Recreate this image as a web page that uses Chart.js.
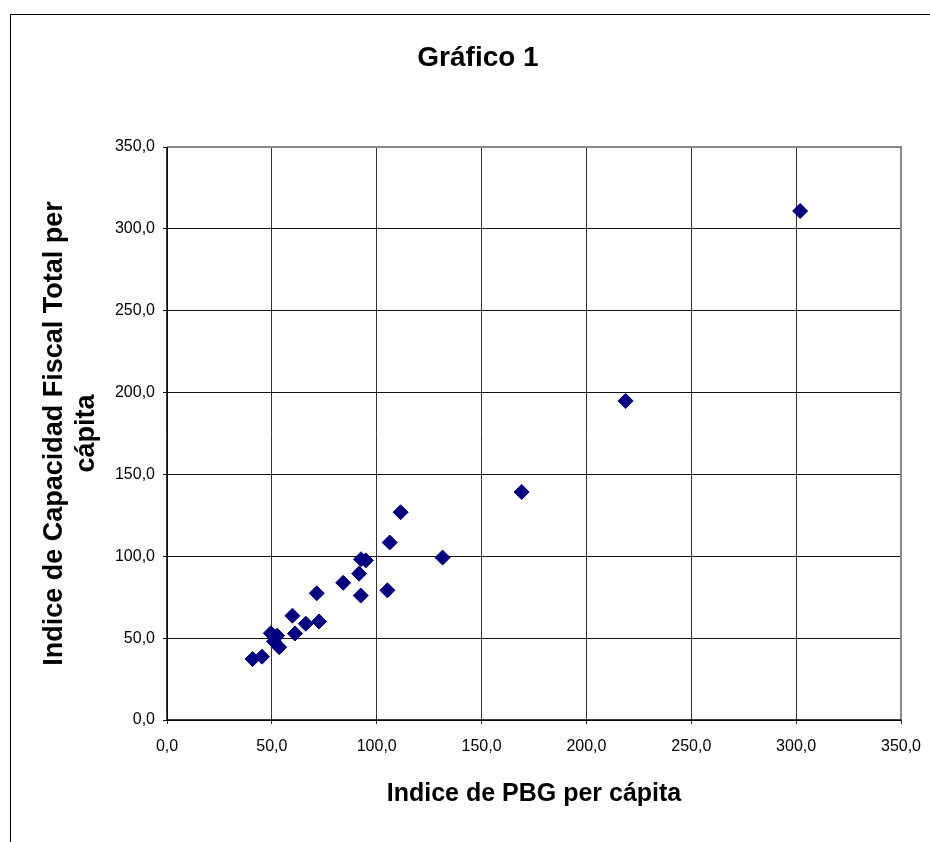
<!DOCTYPE html>
<html>
<head>
<meta charset="utf-8">
<script src="https://cdn.jsdelivr.net/npm/chart.js@4/dist/chart.umd.min.js"></script>
<style>
  html, body { margin: 0; padding: 0; overflow: hidden; background: #fff; width: 930px; height: 842px; }
  #frame { position: absolute; left: 10px; top: 14px; width: 1000px; height: 900px; border: 1px solid #000; box-sizing: border-box; }
  #c { position: absolute; left: 0; top: 0; }
</style>
</head>
<body>
<div id="frame"></div>
<canvas id="c" width="956" height="842"></canvas>
<script>
// Data
const pbgIndex = [301.9, 218.7, 169.1, 131.4, 111.4, 106.2, 105.1, 94.8, 92.5, 91.6, 84.0, 92.4, 71.4, 72.5, 66.2, 59.8, 61.0, 49.5, 52.5, 53.5, 51.0, 40.8, 45.3];
const capFiscalIndex = [310.9, 194.9, 139.3, 99.2, 126.9, 108.4, 79.2, 97.5, 98.2, 89.4, 83.8, 76.0, 77.4, 60.2, 58.8, 63.7, 52.8, 53.0, 51.5, 44.5, 48.0, 37.2, 38.7];
const axisMin = 0;
const axisMax = 350;
const axisStep = 50;
const chartTitle = 'Gráfico 1';
const xTitle = 'Indice de PBG per cápita';
const yTitle = ['Indice de Capacidad Fiscal Total per', 'cápita'];

const points = pbgIndex.map((x, i) => ({ x: x, y: capFiscalIndex[i] }));
const FONT = 'Arial, "Liberation Sans", Helvetica, sans-serif';
const fmt = v => Number(v).toFixed(1).replace('.', ',');

const framePlugin = {
  id: 'framePlugin',
  beforeDatasetsDraw(chart) {
    const { ctx, chartArea: a } = chart;
    ctx.save();
    ctx.strokeStyle = '#888888';
    ctx.lineWidth = 2;
    ctx.beginPath();
    ctx.moveTo(a.left, a.top);
    ctx.lineTo(a.right, a.top);
    ctx.lineTo(a.right, a.bottom);
    ctx.stroke();
    ctx.strokeStyle = '#000000';
    ctx.lineWidth = 1.5;
    ctx.beginPath();
    ctx.moveTo(a.left, a.top);
    ctx.lineTo(a.left, a.bottom);
    ctx.lineTo(a.right, a.bottom);
    ctx.stroke();
    ctx.restore();
  }
};

new Chart(document.getElementById('c'), {
  type: 'scatter',
  data: {
    datasets: [{
      data: points,
      pointStyle: 'rectRot',
      pointRadius: 7.5,
      pointHoverRadius: 7.5,
      backgroundColor: '#000080',
      borderColor: '#000080',
      borderWidth: 1
    }]
  },
  options: {
    responsive: false,
    animation: false,
    devicePixelRatio: 1,
    events: [],
    layout: { padding: { left: 0, right: 0, top: 0, bottom: 0 } },
    plugins: {
      legend: { display: false },
      tooltip: { enabled: false },
      title: {
        display: true,
        text: chartTitle,
        color: '#000',
        font: { family: FONT, size: 28, weight: 'bold', lineHeight: 1.2 },
        padding: { top: 41, bottom: 72.4 }
      }
    },
    scales: {
      x: {
        type: 'linear',
        position: 'bottom',
        min: axisMin,
        max: axisMax,
        afterFit: s => { s.height = 122; },
        ticks: {
          stepSize: axisStep,
          callback: fmt,
          color: '#000',
          font: { family: FONT, size: 16 },
          padding: 13,
          maxRotation: 0
        },
        grid: { color: '#333333', lineWidth: 1, tickLength: 4, drawTicks: true },
        border: { display: false },
        title: {
          display: true,
          text: xTitle,
          color: '#000',
          font: { family: FONT, size: 25, weight: 'bold', lineHeight: '30px' },
          padding: { top: 0, bottom: 32.5 }
        }
      },
      y: {
        type: 'linear',
        position: 'left',
        min: axisMin,
        max: axisMax,
        afterFit: s => { s.width = 167; },
        ticks: {
          stepSize: axisStep,
          callback: fmt,
          color: '#000',
          font: { family: FONT, size: 16 },
          padding: 8
        },
        grid: { color: '#111111', lineWidth: 1, tickLength: 4, drawTicks: true },
        border: { display: false },
        title: {
          display: true,
          text: yTitle,
          color: '#000',
          font: { family: FONT, size: 27, weight: 'bold', lineHeight: '32px' },
          padding: { top: 39, bottom: 0 }
        }
      },
      yRight: {
        type: 'linear',
        position: 'right',
        display: true,
        afterFit: s => { s.width = 55; },
        ticks: { display: false },
        grid: { display: false, drawTicks: false },
        border: { display: false }
      }
    }
  },
  plugins: [framePlugin]
});
</script>
</body>
</html>
